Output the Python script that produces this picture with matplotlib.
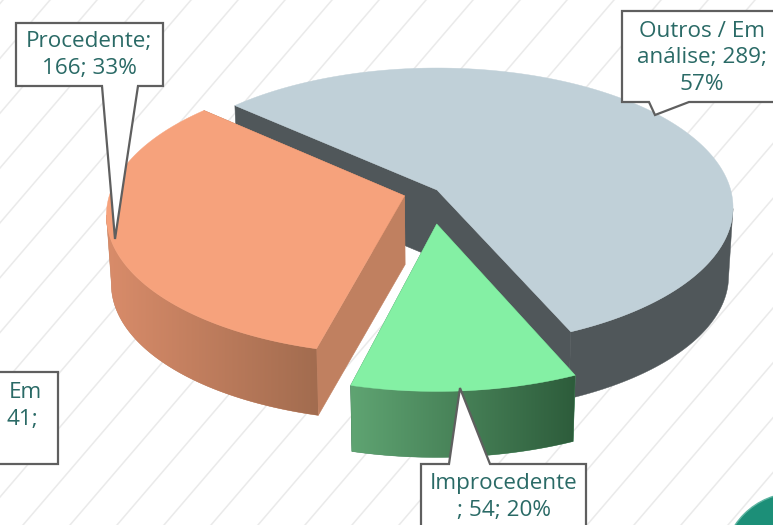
import numpy as np
import matplotlib
matplotlib.use("Agg")
import matplotlib.pyplot as plt
from matplotlib.patches import Polygon, Circle
from matplotlib.colors import LinearSegmentedColormap

plt.rcParams['font.family'] = ['Open Sans', 'DejaVu Sans']

# dados do grafico
categorias = ["Procedente", "Improcedente", "Outros / Em análise"]
valores = [166, 54, 289]
rotulos = ["Procedente;\n166; 33%", "Improcedente\n; 54; 20%", "Outros / Em\nanálise; 289;\n57%"]

cor_topo = ["#f6a27c", "#84f0a4", "#c0d0d8"]
cor_lado = ["#c08060", "#4d8a62", "#50575a"]
grad_lado = [("#d98c6a", "#a26c4f"), ("#5fa472", "#2d5c3b"), ("#50575a", "#50575a")]

# afastamento de cada fatia no plano da pizza
desloc = [(-0.110, -0.042), (-0.001, -0.240), (0.0, 0.0)]

ANG0 = 138.2
CX, CY = 437, 190
A, B, K = 293.7, 137.25, 0.125
ALTURA = 69
ENC = 0.985
FONTE = 16.2


def projeta(u, v):
    # plano da pizza em perspectiva
    w = 1 + K * v
    return A * u / w, -B * v / w


def fatia(ax, ini, fim, i, z):
    du, dv = desloc[i]
    angs = np.linspace(ini, fim, 200)
    rad = np.radians(angs)
    x, y = projeta(np.cos(rad) + du, np.sin(rad) + dv)
    x0, y0 = projeta(du, dv)
    t = np.column_stack([CX + x, CY + y])
    b = np.column_stack([CX + x * ENC, CY + y * ENC + ALTURA])
    c_t = np.array([CX + x0, CY + y0])
    c_b = np.array([CX + x0 * ENC, CY + y0 * ENC + ALTURA])

    # faces radiais
    for j in (0, -1):
        ax.add_patch(Polygon(np.array([c_t, t[j], b[j], c_b]), closed=True, fc=cor_lado[i],
                             ec=cor_lado[i], lw=0.4, zorder=z))

    # parede curva, so a parte da frente
    frente = np.sin(rad) < -K
    xy = np.vstack([t[frente], b[frente][::-1]])
    p = Polygon(xy, closed=True, fc=cor_lado[i], ec=cor_lado[i], lw=0.3, zorder=z + 0.1)
    ax.add_patch(p)
    if grad_lado[i][0] != grad_lado[i][1]:
        cm = LinearSegmentedColormap.from_list("lado", grad_lado[i])
        g = np.linspace(0, 1, 256).reshape(1, -1)
        im = ax.imshow(g, cmap=cm, extent=(xy[:, 0].min(), xy[:, 0].max(), 525, 0),
                       aspect="auto", zorder=z + 0.1)
        im.set_clip_path(p)

    ax.add_patch(Polygon(np.vstack([c_t, t]), closed=True, fc=cor_topo[i], ec=cor_topo[i],
                         lw=0.3, zorder=z + 0.2))


def balao(ax, caixa, ponta, texto, tx, ty, z=10):
    # caixa de rotulo com ponteiro
    x0, y0, x1, y1 = caixa
    if ponta is None:
        xy = [(x0, y0), (x1, y0), (x1, y1), (x0, y1)]
    else:
        base0, base1, alvo, lado = ponta
        if lado == "baixo":
            xy = [(x0, y0), (x1, y0), (x1, y1), (base1, y1), alvo, (base0, y1), (x0, y1)]
        else:
            xy = [(x0, y0), (base0, y0), alvo, (base1, y0), (x1, y0), (x1, y1), (x0, y1)]
    ax.add_patch(Polygon(xy, closed=True, fc="white", ec="#5f5f5f", lw=1.6, zorder=z,
                         joinstyle="miter"))
    if texto:
        ax.text(tx, ty, texto, ha="center", va="center", fontsize=FONTE, color="#2a6a66",
                linespacing=1.36, zorder=z + 1)


fig = plt.figure(figsize=(7.73, 5.25), dpi=100)
ax = fig.add_axes([0, 0, 1, 1])
ax.axis("off")

# listras do fundo
for x in np.arange(-447, 800, 47):
    ax.plot([x, x + 450], [525, 0], color="#eaeaea", lw=1.1, zorder=0)

# fatias a partir dos valores
total = float(sum(valores))
ini = ANG0
angulos = []
for v in valores:
    fim = ini + v / total * 360
    angulos.append((ini, fim))
    ini = fim

fatia(ax, *angulos[2], 2, 2)
fatia(ax, *angulos[0], 0, 3)
fatia(ax, *angulos[1], 1, 4)

balao(ax, (16, 23, 163, 86), (102, 138, (115, 239), "baixo"), rotulos[0], 89, 55)
balao(ax, (622, 11, 790, 102), (649, 689, (655, 115), "baixo"), rotulos[2], 702, 58)
balao(ax, (421, 464, 586, 540), (449, 490, (460, 388), "cima"), rotulos[1], 504, 497)

# rotulo na margem esquerda
balao(ax, (-60, 372, 58, 464), None, "", 0, 0)
ax.text(42, 392, "Em", ha="right", va="center", fontsize=FONTE, color="#2a6a66", zorder=11)
ax.text(38, 419, "41;", ha="right", va="center", fontsize=FONTE, color="#2a6a66", zorder=11)

# detalhe no canto inferior direito
ax.add_patch(Circle((795, 565), 72, fc="#1c8f78", ec="#5fb5a2", lw=1.0, zorder=1))

ax.set_xlim(0, 773)
ax.set_ylim(525, 0)
fig.savefig("out.png", dpi=100)
